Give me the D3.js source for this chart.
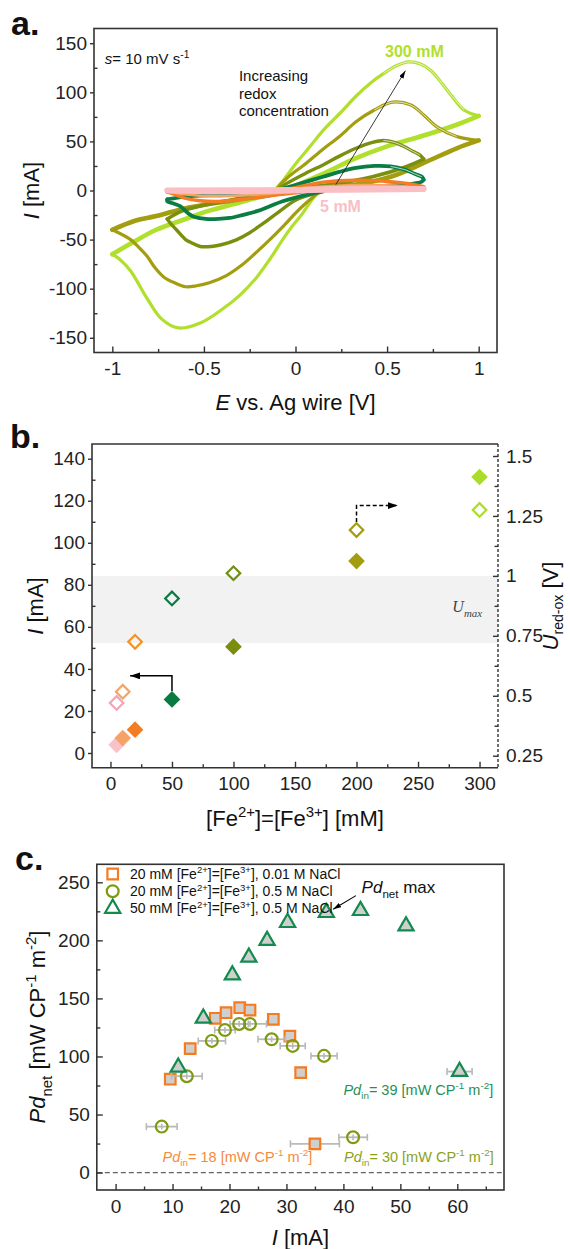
<!DOCTYPE html>
<html><head><meta charset="utf-8">
<script src="https://cdn.jsdelivr.net/npm/d3@7"></script>
<style>
body{margin:0;background:#fff;}
svg{display:block;font-family:"Liberation Sans",Arial,Helvetica,sans-serif;}
</style></head><body>
<svg id="chart" width="570" height="1249"></svg>
<script>
// ---------------- Panel a : cyclic voltammograms [E (V), I (mA)] ----------------
const cv300Base = [[-1,-65],[-0.88,-52],[-0.76,-40],[-0.6,-29],[-0.48,-21],[-0.3,-12],[-0.15,-4],[0,5],[0.15,17],[0.33,33],[0.5,45],[0.7,56],[0.88,67],[1,76]];
const cv300Ox = [[-0.12,-1],[-0.06,12],[0,27],[0.08,45],[0.15,61],[0.25,80],[0.33,96],[0.42,111],[0.48,119],[0.55,127],[0.62,131],[0.68,129],[0.74,122],[0.8,109],[0.85,97],[0.92,82],[1,76]];
const cv300Red = [[0.12,-2],[0.08,-12],[0.04,-23],[-0.02,-37],[-0.07,-50],[-0.14,-70],[-0.21,-88],[-0.3,-106],[-0.4,-121],[-0.52,-135],[-0.64,-140],[-0.73,-131],[-0.81,-110],[-0.9,-82],[-0.96,-70],[-1,-65]];

const cv200Base = [[-1,-40],[-0.88,-31],[-0.76,-26],[-0.6,-18],[-0.48,-14],[-0.3,-9],[-0.15,-5],[0,0],[0.15,3],[0.33,6],[0.52,14],[0.7,28],[0.88,43],[1,51]];
const cv200Ox = [[-0.12,-2],[-0.05,12],[0.06,28],[0.15,42],[0.24,55],[0.33,70],[0.43,82],[0.53,90],[0.63,87],[0.7,77],[0.77,65],[0.88,55],[1,51]];
const cv200Red = [[0.12,-3],[0.05,-14],[0,-23],[-0.07,-37],[-0.14,-50],[-0.22,-64],[-0.3,-77],[-0.38,-87],[-0.47,-94],[-0.54,-97],[-0.6,-98],[-0.66,-94],[-0.72,-88],[-0.77,-78],[-0.81,-67],[-0.86,-57],[-0.9,-50],[-1,-40]];

const cv100Base = [[-0.7,-29],[-0.62,-21],[-0.5,-15],[-0.3,-8],[-0.12,-2],[0.06,3],[0.24,7.5],[0.42,14],[0.6,24],[0.7,32]];
const cv100Ox = [[-0.12,-2],[-0.05,7],[0.06,18],[0.15,26],[0.24,35],[0.33,43],[0.42,49],[0.48,51],[0.54,49],[0.59,45],[0.64,40],[0.68,36],[0.7,32]];
const cv100Red = [[0.15,-1],[0.07,-5],[0,-10],[-0.1,-23],[-0.18,-34],[-0.25,-43],[-0.32,-50],[-0.4,-55],[-0.46,-57],[-0.52,-57],[-0.57,-53],[-0.6,-50],[-0.65,-40],[-0.68,-34],[-0.7,-29]];

const cv50Base = [[-0.7,-9],[-0.58,-6],[-0.3,-4],[-0.12,-1],[0.06,1],[0.24,3],[0.42,4.5],[0.6,6],[0.69,9],[0.7,11]];
const cv50Ox = [[-0.12,-1],[-0.03,4],[0.06,9],[0.15,14],[0.24,19],[0.33,23],[0.43,25],[0.52,24.5],[0.6,21],[0.65,17],[0.69,14],[0.7,11]];
const cv50Red = [[0.15,-1],[0.06,-4.5],[-0.07,-11],[-0.14,-16],[-0.21,-21],[-0.29,-25],[-0.36,-28],[-0.42,-29],[-0.49,-29],[-0.55,-27],[-0.58,-24],[-0.63,-16],[-0.67,-13],[-0.7,-11],[-0.7,-9]];

const cv20Base = [[-0.7,-1.5],[-0.3,-1],[0,0],[0.3,1.5],[0.7,3]];
const cv20Ox = [[-0.1,0],[0,3],[0.15,8.5],[0.33,10.5],[0.52,9],[0.62,7],[0.7,4]];
const cv20Red = [[0.06,-1],[-0.1,-4.5],[-0.25,-8],[-0.4,-11],[-0.52,-10.5],[-0.61,-7.5],[-0.66,-4],[-0.7,-1.5]];

const cv10Base = [[-0.7,-1],[0,0],[0.7,2]];
const cv10Ox = [[-0.1,0],[0.15,4],[0.35,5.5],[0.55,5],[0.7,2]];
const cv10Red = [[0.05,-0.5],[-0.2,-4],[-0.42,-6],[-0.6,-4],[-0.7,-1]];

const cv5Base = [[-0.7,0],[0,0.5],[0.7,1.5]];
const cv5Ox = [[-0.1,0.3],[0.2,2],[0.4,2.5],[0.7,1.5]];
const cv5Red = [[0.1,0],[-0.2,-1],[-0.45,-1.5],[-0.7,0]];

const aXTicks = [-1,-0.5,0,0.5,1];
const aXLabels = ["-1","-0.5","0","0.5","1"];
const aXMinor = [-0.75,-0.25,0.25,0.75];
const aYTicks = [-150,-100,-50,0,50,100,150];
const aYLabels = ["-150","-100","-50","0","50","100","150"];
const aYMinor = [-125,-75,-25,25,75,125];

// ---------------- Panel b ----------------
const concentrations = [5,10,20,50,100,200,300];
const peakCurrent = [3.9,7.1,11.1,25.5,50.6,91.3,131.3];      // filled, left axis [mA]
const redoxVoltage = [0.47,0.517,0.725,0.906,1.011,1.191,1.275]; // open, right axis [V]
const fillColors = ["#f8c2c8","#f4a368","#f37d22","#0a7a43","#7b8c0e","#a39d10","#acdc2a"];
const openColors = ["#f4a4b6","#f5a462","#f7921e","#0a7a43","#6f8f14","#a39d10","#acdc2a"];
const uMaxBand = [0.72,1.0];
const bXTicks = [0,50,100,150,200,250,300];
const bXMinor = [25,75,125,175,225,275];
const bYTicks = [0,20,40,60,80,100,120,140];
const bYMinor = [10,30,50,70,90,110,130];
const bRTicks = [0.25,0.5,0.75,1,1.25,1.5];
const bRLabels = ["0.25","0.5","0.75","1","1.25","1.5"];
const bRMinor = [0.375,0.625,0.875,1.125,1.375];

// ---------------- Panel c ----------------
const sqI = [9.6,13.1,17.5,19.4,21.8,23.6,27.7,30.6,32.5,35.0];
const sqPd = [80.4,106.8,132.9,137.7,142.0,140.0,132.0,117.5,86.1,24.7];
const sqErr = [0.5,0.5,0.6,0.6,0.7,0.6,0.6,0.7,0.5,4.3];
const ciI = [8.1,12.5,16.9,19.2,21.7,23.6,27.4,31.1,36.6,41.7];
const ciPd = [39.6,83.0,113.4,122.8,128.0,128.0,114.8,109.1,100.5,30.4];
const ciErr = [2.7,2.7,2.4,1.8,1.6,2.9,2.4,2.2,2.3,2.5];
const trI = [11.0,15.4,20.5,23.4,26.6,30.2,37.0,43.0,51.0,60.4];
const trPd = [90.7,132.9,170.2,185.4,199.8,215.3,223.9,225.6,212.4,87.0];
const trErr = [0.5,0.6,0.6,0.6,0.6,0.7,0.7,0.7,0.7,2.2];
const legendLabels = [
  ["20 mM [Fe","2+","]=[Fe","3+","], 0.01 M NaCl"],
  ["20 mM [Fe","2+","]=[Fe","3+","], 0.5 M NaCl"],
  ["50 mM [Fe","2+","]=[Fe","3+","], 0.5 M NaCl"]];
const cXTicks = [0,10,20,30,40,50,60];
const cXMinor = [5,15,25,35,45,55,65];
const cYTicks = [0,50,100,150,200,250];
const cYMinor = [25,75,125,175,225];

// =====================================================
const svg = d3.select("#chart");
const AX = "#333";
const TICKFS = 19, TITLEFS = 22;

const defs = svg.append("defs");
function arrowMarker(id, len, wid){
  defs.append("marker").attr("id",id).attr("viewBox",`0 0 ${len} ${wid}`)
    .attr("refX",len).attr("refY",wid/2).attr("markerWidth",len).attr("markerHeight",wid)
    .attr("markerUnits","userSpaceOnUse").attr("orient","auto")
    .append("path").attr("d",`M0,0L${len},${wid/2}L0,${wid}Z`).attr("fill","#000");
}
arrowMarker("ahSmall",8,5);
arrowMarker("ahBig",10,7);

function rich(sel, parts, fs, subScale, subShift){
  const ss = subScale || 0.68, sh = subShift || 0.3;
  let shift = 0;
  parts.forEach(p=>{
    const ts = sel.append("tspan").text(p.t);
    const target = p.sub ? fs*sh : (p.sup ? -fs*0.4 : 0);
    if (target !== shift){ ts.attr("dy", target-shift); shift = target; }
    if (p.sub || p.sup) ts.attr("font-size", fs*ss);
    if (p.i) ts.attr("font-style","italic");
  });
  return sel;
}

function styleAxis(g){
  g.select(".domain").remove();
  g.selectAll("line").attr("stroke",AX).attr("stroke-width",1.4);
  g.selectAll("text").attr("font-size",TICKFS).attr("fill","#222")
   .attr("font-family",'"Liberation Sans",Arial,sans-serif');
  g.attr("font-family",null).attr("font-size",null);
  return g;
}

function bottomAxis(scale, y, ticks, labels, minor, pad){
  styleAxis(svg.append("g").attr("transform",`translate(0,${y})`)
    .call(d3.axisBottom(scale).tickValues(ticks).tickFormat((d,i)=>labels[i]).tickSize(-6).tickPadding(pad)));
  styleAxis(svg.append("g").attr("transform",`translate(0,${y})`)
    .call(d3.axisBottom(scale).tickValues(minor).tickFormat("").tickSize(-3.5)));
}
function leftAxis(scale, x, ticks, labels, minor, majorLen, pad){
  styleAxis(svg.append("g").attr("transform",`translate(${x},0)`)
    .call(d3.axisLeft(scale).tickValues(ticks).tickFormat((d,i)=>labels[i]).tickSize(majorLen).tickPadding(pad)));
  styleAxis(svg.append("g").attr("transform",`translate(${x},0)`)
    .call(d3.axisLeft(scale).tickValues(minor).tickFormat("").tickSize(-3.5)));
}

// ===================== PANEL A =====================
const ax = d3.scaleLinear().domain([-1.1,1.1]).range([94,497]);
const ay = d3.scaleLinear().domain([-165,165]).range([352.5,28.5]);

const cvSets = [
  {color:"#b0df2c", base:cv300Base, ox:cv300Ox, red:cv300Red, wb:4.6, ww:3.2, dbl:2},
  {color:"#a39d10", base:cv200Base, ox:cv200Ox, red:cv200Red, wb:4.6, ww:3.2, dbl:1},
  {color:"#7b8f0e", base:cv100Base, ox:cv100Ox, red:cv100Red, wb:3.6, ww:3.4, dbl:0},
  {color:"#0a7d45", base:cv50Base, ox:cv50Ox, red:cv50Red, wb:3.6, ww:3.8, dbl:-1},
  {color:"#f47c24", base:cv20Base, ox:cv20Ox, red:cv20Red, wb:4.0, ww:3.4, dbl:null},
  {color:"#f6a463", base:cv10Base, ox:cv10Ox, red:cv10Red, wb:3.0, ww:2.6, dbl:null},
  {color:"#f9bfc5", base:cv5Base, ox:cv5Ox, red:cv5Red, wb:6.0, ww:5.0, dbl:null}
];
const cvLine = d3.line().x(d=>ax(d[0])).y(d=>ay(d[1])).curve(d3.curveCatmullRom.alpha(0.5));
const gCV = svg.append("g");
cvSets.forEach(s=>{
  [["base",s.wb],["red",s.ww],["ox",s.ww]].forEach(([k,w])=>{
    gCV.append("path").attr("d",cvLine(s[k])).attr("fill","none")
      .attr("stroke",s.color).attr("stroke-width",w)
      .attr("stroke-linejoin","round").attr("stroke-linecap","round");
  });
  if (s.dbl !== null){
    // double-trace look of repeated cycles after the anodic peak
    const pk = d3.maxIndex(s.ox, d=>d[1]);
    const seg = s.ox.slice(Math.max(0, pk - s.dbl), s.ox.length - 1);
    gCV.append("path").attr("d",cvLine(seg)).attr("fill","none")
      .attr("stroke","#fff").attr("stroke-width",0.8).attr("stroke-opacity",0.9);
  }
});

// arrow "increasing redox concentration"
svg.append("line").attr("x1",ax(0.22)).attr("y1",ay(6)).attr("x2",ax(0.6)).attr("y2",ay(122))
  .attr("stroke","#222").attr("stroke-width",0.9).attr("marker-end","url(#ahSmall)");

svg.append("rect").attr("x",94).attr("y",28.5).attr("width",403).attr("height",324)
  .attr("fill","none").attr("stroke",AX).attr("stroke-width",1.6);
bottomAxis(ax, 352.5, aXTicks, aXLabels, aXMinor, 9);
leftAxis(ay, 94, aYTicks, aYLabels, aYMinor, 4, 3);

rich(svg.append("text").attr("x",ax(-1.041)).attr("y",ay(129)).attr("font-size",15).attr("fill","#111"),
  [{t:"s",i:true},{t:"= 10 mV s"},{t:"-1",sup:true}], 15);
["Increasing","redox","concentration"].forEach((t,i)=>{
  svg.append("text").attr("x",ax(-0.309)).attr("y",ay(111.7)+i*17.7).attr("font-size",15).attr("fill","#111").text(t);
});
svg.append("text").attr("x",ax(0.489)).attr("y",ay(136)).attr("font-size",16).attr("font-weight","bold")
  .attr("fill","#b0df2c").text("300 mM");
svg.append("text").attr("x",ax(0.134)).attr("y",ay(-21.7)).attr("font-size",16).attr("font-weight","bold")
  .attr("fill","#f9bfc5").text("5 mM");

rich(svg.append("text").attr("x",295.5).attr("y",410).attr("text-anchor","middle").attr("font-size",TITLEFS).attr("fill","#111"),
  [{t:"E",i:true},{t:" vs. Ag wire [V]"}], TITLEFS);
rich(svg.append("text").attr("transform","translate(38.5,190.5) rotate(-90)").attr("text-anchor","middle").attr("font-size",TITLEFS).attr("fill","#111"),
  [{t:"I",i:true},{t:" [mA]"}], TITLEFS);
svg.append("text").attr("x",11).attr("y",35).attr("font-size",34).attr("font-weight","bold").attr("fill","#111").text("a.");

// ===================== PANEL B =====================
const bx = d3.scaleLinear().domain([-15,315]).range([92,498]);
const by = d3.scaleLinear().domain([-7,147]).range([767.7,444]);
const byR = d3.scaleLinear().domain([0.2,1.55]).range([767.7,444]);

svg.append("rect").attr("x",92).attr("width",406).attr("y",byR(uMaxBand[1])).attr("height",byR(uMaxBand[0])-byR(uMaxBand[1]))
  .attr("fill","#f2f2f2");
const umax = svg.append("text").attr("x",bx(302)).attr("y",by(67.2)).attr("text-anchor","end")
  .attr("font-family",'"Liberation Serif","Times New Roman",serif').attr("font-style","italic").attr("font-size",16).attr("fill","#444");
rich(umax,[{t:"U"},{t:"max",sub:true}],16);

// box
svg.append("path").attr("d","M498,444H92V767.7H498").attr("fill","none").attr("stroke",AX).attr("stroke-width",1.6);
svg.append("line").attr("x1",498).attr("x2",498).attr("y1",444).attr("y2",767.7)
  .attr("stroke",AX).attr("stroke-width",1.4).attr("stroke-dasharray","3,2");
bottomAxis(bx, 767.7, bXTicks, bXTicks.map(String), bXMinor, 8.8);
leftAxis(by, 92, bYTicks, bYTicks.map(String), bYMinor, 4, 3);
styleAxis(svg.append("g").attr("transform","translate(498,0)")
  .call(d3.axisRight(byR).tickValues(bRTicks).tickFormat((d,i)=>bRLabels[i]).tickSize(-5).tickPadding(8)));
styleAxis(svg.append("g").attr("transform","translate(498,0)")
  .call(d3.axisRight(byR).tickValues(bRMinor).tickFormat("").tickSize(-3.5)));

// arrows
svg.append("path").attr("d",d3.line()([[bx(50),by(29.5)],[bx(50),by(36.7)],[bx(16),by(36.7)]]))
  .attr("fill","none").attr("stroke","#000").attr("stroke-width",1.5).attr("marker-end","url(#ahBig)");
svg.append("path").attr("d",d3.line()([[bx(200),byR(1.225)],[bx(200),byR(1.293)],[bx(233.5),byR(1.293)]]))
  .attr("fill","none").attr("stroke","#000").attr("stroke-width",1.5).attr("stroke-dasharray","4,2.5").attr("marker-end","url(#ahBig)");

const diamondFilled = d3.symbol().type(d3.symbolSquare).size(139)();
const diamondOpen = d3.symbol().type(d3.symbolSquare).size(92)();
svg.append("g").selectAll("path").data(concentrations).join("path")
  .attr("d",diamondOpen).attr("transform",(d,i)=>`translate(${bx(d)},${byR(redoxVoltage[i])}) rotate(45)`)
  .attr("fill","none").attr("stroke",(d,i)=>openColors[i]).attr("stroke-width",2.2);
svg.append("g").selectAll("path").data(concentrations).join("path")
  .attr("d",diamondFilled).attr("transform",(d,i)=>`translate(${bx(d)},${by(peakCurrent[i])}) rotate(45)`)
  .attr("fill",(d,i)=>fillColors[i]);

rich(svg.append("text").attr("x",295).attr("y",826).attr("text-anchor","middle").attr("font-size",TITLEFS).attr("fill","#111"),
  [{t:"[Fe"},{t:"2+",sup:true},{t:"]=[Fe"},{t:"3+",sup:true},{t:"] [mM]"}], TITLEFS);
rich(svg.append("text").attr("transform","translate(42.5,606) rotate(-90)").attr("text-anchor","middle").attr("font-size",TITLEFS).attr("fill","#111"),
  [{t:"I",i:true},{t:" [mA]"}], TITLEFS);
rich(svg.append("text").attr("transform","translate(558,606) rotate(-90)").attr("text-anchor","middle").attr("font-size",TITLEFS).attr("fill","#111"),
  [{t:"U",i:true},{t:"red-ox",sub:true},{t:" [V]"}], TITLEFS, 0.64, 0.22);
svg.append("text").attr("x",10).attr("y",448).attr("font-size",34).attr("font-weight","bold").attr("fill","#111").text("b.");

// ===================== PANEL C =====================
const cx = d3.scaleLinear().domain([-3.3,68.2]).range([96.8,504]);
const cy = d3.scaleLinear().domain([-15,265.5]).range([1190,864.3]);

svg.append("line").attr("x1",96.8).attr("x2",504).attr("y1",cy(0)).attr("y2",cy(0))
  .attr("stroke","#666").attr("stroke-width",1.2).attr("stroke-dasharray","5,3");

const series = [
  {x:sqI, y:sqPd, e:sqErr, color:"#f47b20", sym:d3.symbolSquare, size:112, fill:"#cfcfcf"},
  {x:ciI, y:ciPd, e:ciErr, color:"#7d9a12", sym:d3.symbolCircle, size:110, fill:"none"},
  {x:trI, y:trPd, e:trErr, color:"#138a4e", sym:d3.symbolTriangle, size:100, fill:"#cfcfcf"}
];
const EB = "#b9b9b9";
series.forEach(s=>{
  const g = svg.append("g");
  s.x.forEach((xv,i)=>{
    const yy = cy(s.y[i]);
    g.append("line").attr("x1",cx(xv-s.e[i])).attr("x2",cx(xv+s.e[i])).attr("y1",yy).attr("y2",yy).attr("stroke",EB).attr("stroke-width",1.8);
    [xv-s.e[i], xv+s.e[i]].forEach(v=>g.append("line").attr("x1",cx(v)).attr("x2",cx(v)).attr("y1",yy-3.5).attr("y2",yy+3.5).attr("stroke",EB).attr("stroke-width",1.6));
    g.append("line").attr("x1",cx(xv)).attr("x2",cx(xv)).attr("y1",cy(s.y[i]-2.5)).attr("y2",cy(s.y[i]+2.5)).attr("stroke",EB).attr("stroke-width",1.6);
  });
  svg.append("g").selectAll("path").data(s.x).join("path")
    .attr("d",d3.symbol().type(s.sym).size(s.size)())
    .attr("transform",(d,i)=>`translate(${cx(d)},${cy(s.y[i])})`)
    .attr("fill",s.fill).attr("stroke",s.color).attr("stroke-width",2.2);
});

svg.append("rect").attr("x",96.8).attr("y",864.3).attr("width",407.2).attr("height",325.7)
  .attr("fill","none").attr("stroke",AX).attr("stroke-width",1.6);
bottomAxis(cx, 1190, cXTicks, cXTicks.map(String), cXMinor, 9.5);
styleAxis(svg.append("g").attr("transform","translate(96.8,0)")
  .call(d3.axisLeft(cy).tickValues(cYTicks).tickFormat(d=>String(d)).tickSize(-6).tickPadding(7)));
styleAxis(svg.append("g").attr("transform","translate(96.8,0)")
  .call(d3.axisLeft(cy).tickValues(cYMinor).tickFormat("").tickSize(-3.5)));

// legend
legendLabels.forEach((lab,i)=>{
  const ly = 874 + i*17.2;
  const s = series[i];
  svg.append("path").attr("d",d3.symbol().type(s.sym).size(s.size)())
    .attr("transform",`translate(112.7,${ly})`).attr("fill","none").attr("stroke",s.color).attr("stroke-width",2.2);
  rich(svg.append("text").attr("x",130).attr("y",ly+5).attr("font-size",14).attr("fill","#111"),
    [{t:lab[0]},{t:lab[1],sup:true},{t:lab[2]},{t:lab[3],sup:true},{t:lab[4]}], 14);
});

// annotations
rich(svg.append("text").attr("x",cx(43.2)).attr("y",cy(240.5)).attr("font-size",17).attr("fill","#111"),
  [{t:"Pd",i:true},{t:"net",sub:true},{t:" max"}], 17);
svg.append("line").attr("x1",cx(42.2)).attr("y1",cy(238.5)).attr("x2",cx(38.2)).attr("y2",cy(226.8))
  .attr("stroke","#000").attr("stroke-width",1.1).attr("marker-end","url(#ahSmall)");
rich(svg.append("text").attr("x",cx(66.3)).attr("y",cy(66.8)).attr("text-anchor","end").attr("font-size",14.5).attr("fill","#1f9157"),
  [{t:"Pd",i:true},{t:"in",sub:true},{t:"= 39 [mW CP"},{t:"-1",sup:true},{t:" m"},{t:"-2",sup:true},{t:"]"}], 14.5);
rich(svg.append("text").attr("x",cx(8.25)).attr("y",cy(9.4)).attr("font-size",14.5).attr("fill","#f58a3c"),
  [{t:"Pd",i:true},{t:"in",sub:true},{t:"= 18 [mW CP"},{t:"-1",sup:true},{t:" m"},{t:"-2",sup:true},{t:"]"}], 14.5);
rich(svg.append("text").attr("x",cx(66.4)).attr("y",cy(9.4)).attr("text-anchor","end").attr("font-size",14.5).attr("fill","#8ba21a"),
  [{t:"Pd",i:true},{t:"in",sub:true},{t:"= 30 [mW CP"},{t:"-1",sup:true},{t:" m"},{t:"-2",sup:true},{t:"]"}], 14.5);

rich(svg.append("text").attr("x",300.4).attr("y",1245).attr("text-anchor","middle").attr("font-size",TITLEFS).attr("fill","#111"),
  [{t:"I",i:true},{t:" [mA]"}], TITLEFS);
rich(svg.append("text").attr("transform","translate(45,1027) rotate(-90)").attr("text-anchor","middle").attr("font-size",TITLEFS).attr("fill","#111"),
  [{t:"Pd",i:true},{t:"net",sub:true},{t:" [mW CP"},{t:"-1",sup:true},{t:" m"},{t:"-2",sup:true},{t:"]"}], TITLEFS);
svg.append("text").attr("x",15).attr("y",870).attr("font-size",34).attr("font-weight","bold").attr("fill","#111").text("c.");
</script>
</body></html>
